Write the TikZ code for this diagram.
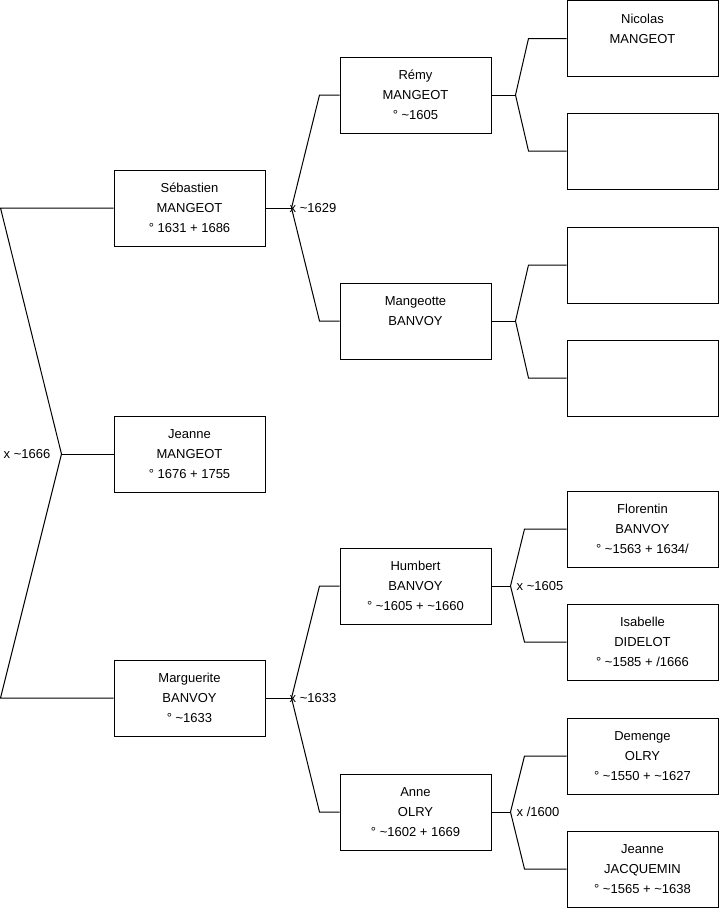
\documentclass[tikz,border=0pt]{standalone}
\usepackage{fontspec}
\setmainfont{Liberation Sans}
\usetikzlibrary{positioning}

\begin{document}
\begin{tikzpicture}[
  x=1pt, y=-1pt,
  person/.style={draw, line width=1pt, minimum width=151pt, minimum height=76pt, inner sep=0pt, font=\fontsize{13}{20}\selectfont, align=center},
  link/.style={line width=1pt},
  mar/.style={font=\fontsize{13}{16}\selectfont, inner sep=0pt}]

  \useasboundingbox (0,0) rectangle (719,908);

  % generation 0 and 1
  \node[person] (jeanne) at (189.5,454) {Jeanne\\MANGEOT\\° 1676 + 1755};
  \node[person] (seb) at (189.5,208) {Sébastien\\MANGEOT\\° 1631 + 1686};
  \node[person] (marg) at (189.5,698) {Marguerite\\BANVOY\\° \textasciitilde1633};

  % generation 2
  \node[person] (remy) at (415.5,95) {Rémy\\MANGEOT\\° \textasciitilde1605};
  \node[person] (mangeotte) at (415.5,321) {Mangeotte\\BANVOY\\\vphantom{1}};
  \node[person] (humbert) at (415.5,586) {Humbert\\BANVOY\\° \textasciitilde1605 + \textasciitilde1660};
  \node[person] (anne) at (415.5,812) {Anne\\OLRY\\° \textasciitilde1602 + 1669};

  % generation 3
  \node[person] (nicolas) at (642.5,38.5) {Nicolas\\MANGEOT\\\vphantom{1}};
  \node[person] (remym) at (642.5,151) {};
  \node[person] (mangp) at (642.5,265) {};
  \node[person] (mangm) at (642.5,378) {};
  \node[person] (florentin) at (642.5,529) {Florentin\\BANVOY\\° \textasciitilde1563 + 1634/};
  \node[person] (isabelle) at (642.5,642) {Isabelle\\DIDELOT\\° \textasciitilde1585 + /1666};
  \node[person] (demenge) at (642.5,756) {Demenge\\OLRY\\° \textasciitilde1550 + \textasciitilde1627};
  \node[person] (jacquemin) at (642.5,869) {Jeanne\\JACQUEMIN\\° \textasciitilde1565 + \textasciitilde1638};

  % forks
  \coordinate (f0) at ([xshift=-52pt]jeanne.west);
  \coordinate (f1) at ([xshift=26pt]seb.east);
  \coordinate (f2) at ([xshift=26pt]marg.east);
  \coordinate (f3) at ([xshift=24pt]remy.east);
  \coordinate (f4) at ([xshift=24pt]mangeotte.east);
  \coordinate (f5) at ([xshift=19pt]humbert.east);
  \coordinate (f6) at ([xshift=19pt]anne.east);

  \draw[link] (jeanne.west) -- (f0);
  \draw[link] (f0) -- ([xshift=-113pt]seb.west) -- (seb.west);
  \draw[link] (f0) -- ([xshift=-113pt]marg.west) -- (marg.west);

  \draw[link] (seb.east) -- (f1);
  \draw[link] (f1) -- ([xshift=-20pt]remy.west) -- (remy.west);
  \draw[link] (f1) -- ([xshift=-20pt]mangeotte.west) -- (mangeotte.west);
  \draw[link] (marg.east) -- (f2);
  \draw[link] (f2) -- ([xshift=-20pt]humbert.west) -- (humbert.west);
  \draw[link] (f2) -- ([xshift=-20pt]anne.west) -- (anne.west);

  \draw[link] (remy.east) -- (f3);
  \draw[link] (f3) -- ([xshift=-38pt]nicolas.west) -- (nicolas.west);
  \draw[link] (f3) -- ([xshift=-38pt]remym.west) -- (remym.west);
  \draw[link] (mangeotte.east) -- (f4);
  \draw[link] (f4) -- ([xshift=-38pt]mangp.west) -- (mangp.west);
  \draw[link] (f4) -- ([xshift=-38pt]mangm.west) -- (mangm.west);
  \draw[link] (humbert.east) -- (f5);
  \draw[link] (f5) -- ([xshift=-42pt]florentin.west) -- (florentin.west);
  \draw[link] (f5) -- ([xshift=-42pt]isabelle.west) -- (isabelle.west);
  \draw[link] (anne.east) -- (f6);
  \draw[link] (f6) -- ([xshift=-42pt]demenge.west) -- (demenge.west);
  \draw[link] (f6) -- ([xshift=-42pt]jacquemin.west) -- (jacquemin.west);

  % marriages
  \node[mar, anchor=east] (m0) at ([xshift=-11pt]f0) {x \textasciitilde1666};
  \node[mar, anchor=west] (m1) at ([xshift=-2pt]f1) {x \textasciitilde1629};
  \node[mar, anchor=west] (m2) at ([xshift=-2pt]f2) {x \textasciitilde1633};
  \node[mar, anchor=west] (m5) at ([xshift=6pt]f5) {x \textasciitilde1605};
  \node[mar, anchor=west] (m6) at ([xshift=6pt]f6) {x /1600};
\end{tikzpicture}
\end{document}
